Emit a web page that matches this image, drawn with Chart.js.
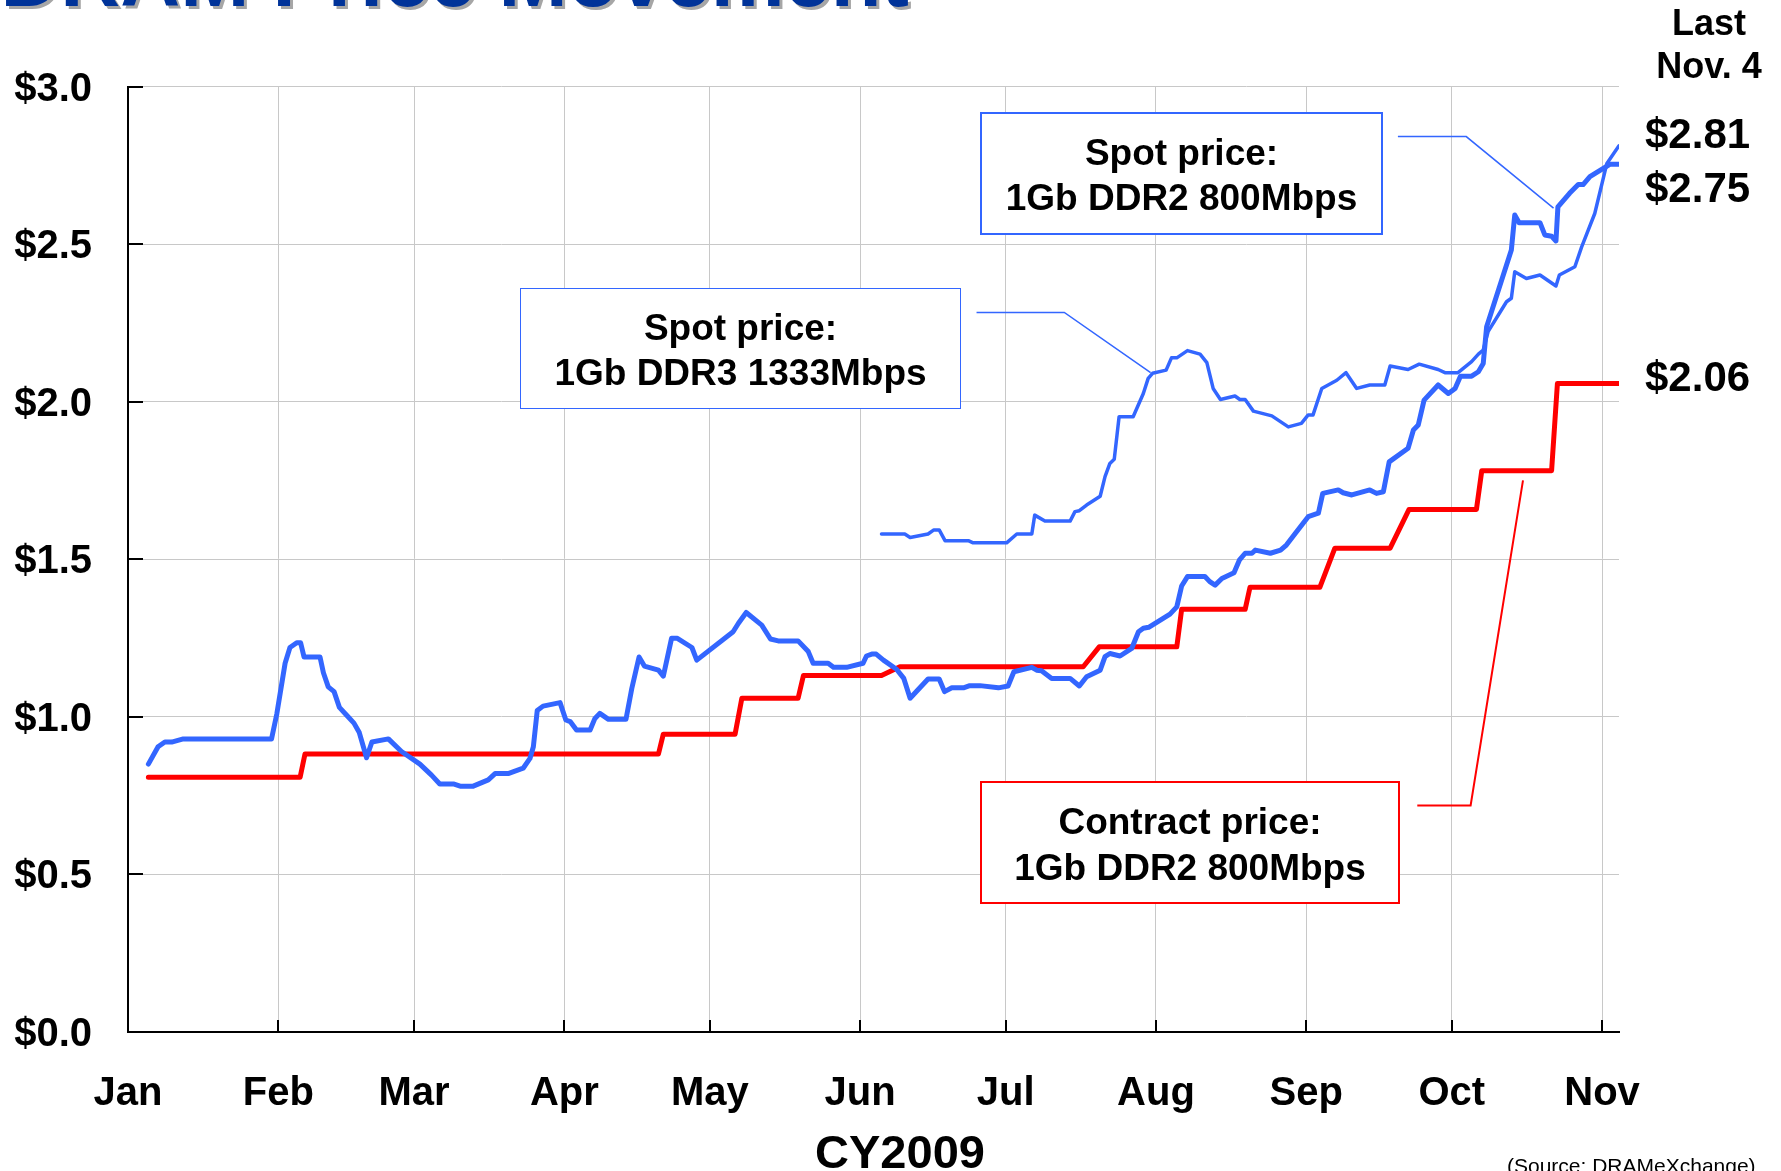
<!DOCTYPE html>
<html>
<head>
<meta charset="utf-8">
<script src="https://cdn.jsdelivr.net/npm/chart.js@4.4.1/dist/chart.umd.min.js"></script>
<style>
html,body{margin:0;padding:0;background:#fff;overflow:hidden;}
#wrap{position:relative;width:1781px;height:1171px;overflow:hidden;font-family:'Liberation Sans',Arial,Helvetica,sans-serif;}
#c{position:absolute;left:0;top:0;}
.t{position:absolute;white-space:nowrap;line-height:1;font-weight:bold;color:#000;}
.box{position:absolute;background:#fff;box-sizing:border-box;}
</style>
</head>
<body>
<div id="wrap"><canvas id="c" width="1781" height="1171"></canvas></div>
<script>
// ---------- data (day of year 2009, 0 = Jan 1; price in US$) ----------
const monthLabels = ['Jan','Feb','Mar','Apr','May','Jun','Jul','Aug','Sep','Oct','Nov'];
const monthStartDays = [0,31,59,90,120,151,181,212,243,273,304];
const lastDay = 307.5;
const yMax = 3.0;
const yStep = 0.5;

const ddr2SpotDays = [4.2,6.2,7.6,9.0,11.4,29.6,30.7,32.4,33.4,34.8,35.6,36.3,39.6,40.3,41.3,42.5,43.6,45.1,46.6,47.7,49.2,50.3,53.7,56.4,60.2,62.6,64.3,67.1,68.5,71.2,74.3,75.7,78.4,81.5,82.9,83.6,84.4,85.6,89.1,90.3,91.2,92.5,95.3,96.3,97.3,99.1,102.7,103.9,105.4,106.5,109.4,110.4,112.1,113.3,116.3,117.3,124.8,125.9,127.5,130.7,132.5,134.1,138.2,140.3,141.3,144.4,145.5,148.2,151.6,152.3,153.4,154.3,155.8,158.5,160.0,161.3,165.0,167.3,168.4,169.9,172.3,173.6,175.7,179.5,181.5,182.7,186.4,187.4,188.4,190.5,194.3,196.2,197.7,200.5,201.5,202.5,204.6,207.0,208.4,209.4,210.5,214.9,216.3,217.3,218.5,222.1,223.1,224.2,225.6,228.1,229.2,230.4,231.8,232.5,235.6,237.7,238.9,241.0,243.4,245.5,246.4,249.6,250.6,252.4,256.1,257.5,258.9,260.1,264.0,265.1,266.1,267.3,270.2,272.3,273.7,274.8,277.1,278.5,279.5,280.2,285.3,286.0,286.9,291.2,292.2,293.6,294.5,294.9,297.3,299.1,300.1,301.5,305.6,307.5];
const ddr2SpotPrices = [0.85,0.905,0.92,0.92,0.93,0.93,1.01,1.17,1.22,1.235,1.235,1.19,1.19,1.14,1.095,1.08,1.03,1.005,0.98,0.95,0.87,0.92,0.93,0.89,0.85,0.815,0.787,0.787,0.78,0.78,0.80,0.82,0.82,0.837,0.868,0.905,1.02,1.034,1.045,0.99,0.985,0.958,0.958,0.995,1.011,0.992,0.992,1.09,1.19,1.161,1.148,1.129,1.249,1.249,1.22,1.18,1.27,1.297,1.331,1.291,1.247,1.241,1.241,1.207,1.17,1.17,1.157,1.157,1.17,1.193,1.199,1.199,1.18,1.151,1.122,1.059,1.12,1.12,1.08,1.092,1.092,1.099,1.099,1.092,1.098,1.143,1.157,1.148,1.146,1.122,1.122,1.098,1.127,1.148,1.191,1.201,1.193,1.217,1.27,1.281,1.284,1.326,1.349,1.415,1.445,1.445,1.429,1.418,1.439,1.457,1.497,1.519,1.519,1.529,1.519,1.529,1.545,1.587,1.635,1.646,1.709,1.72,1.711,1.704,1.72,1.709,1.714,1.809,1.852,1.91,1.926,2.005,2.053,2.026,2.042,2.081,2.081,2.095,2.121,2.238,2.481,2.592,2.568,2.568,2.529,2.525,2.51,2.618,2.661,2.689,2.689,2.714,2.753,2.753];

const ddr3SpotDays = [155.4,160.2,161.3,165.0,166.2,167.3,168.5,173.3,174.3,181.2,183.3,186.4,187.0,189.1,194.3,195.3,196.2,197.7,200.5,201.5,202.5,203.4,204.4,207.3,209.4,210.4,211.3,214.1,215.2,216.3,218.5,221.1,222.5,223.8,225.3,228.3,229.3,230.4,232.1,235.9,239.3,242.0,243.4,244.4,246.2,249.3,251.2,253.4,256.1,259.2,260.3,264.0,266.3,270.2,271.6,274.3,277.1,278.5,279.5,280.5,284.3,285.3,286.0,288.4,291.2,294.5,295.2,298.4,299.8,302.5,305.0,307.5];
const ddr3SpotPrices = [1.58,1.58,1.569,1.58,1.593,1.593,1.559,1.559,1.552,1.552,1.58,1.58,1.64,1.621,1.621,1.651,1.654,1.672,1.70,1.762,1.804,1.817,1.952,1.952,2.026,2.074,2.09,2.10,2.139,2.139,2.162,2.151,2.124,2.042,2.007,2.018,2.007,2.007,1.97,1.955,1.92,1.931,1.958,1.958,2.042,2.068,2.092,2.042,2.053,2.053,2.113,2.102,2.119,2.102,2.092,2.092,2.127,2.151,2.164,2.222,2.317,2.328,2.412,2.391,2.402,2.367,2.402,2.428,2.491,2.597,2.756,2.812];

const contractDays = [4.2,35.5,36.5,109.4,110.4,125.2,126.6,138.2,139.3,155.4,159.2,197.0,200.3,216.3,217.3,230.4,231.4,245.8,248.9,260.3,264.2,278.1,279.2,293.6,294.8,307.5];
const contractPrices = [0.808,0.808,0.882,0.882,0.945,0.945,1.059,1.059,1.131,1.131,1.159,1.159,1.222,1.222,1.341,1.341,1.411,1.411,1.535,1.535,1.658,1.658,1.781,1.781,2.058,2.058];

const lastValueLabels = ['$2.81','$2.75','$2.06'];
const seriesLabels = [['Spot price:','1Gb DDR2 800Mbps'],['Spot price:','1Gb DDR3 1333Mbps'],['Contract price:','1Gb DDR2 800Mbps']];

// ---------- styling / layout ----------
const BLUE = '#3366ff', RED = '#ff0000', GRID = '#c8c8c8';
const FONT = "'Liberation Sans', Arial, Helvetica, sans-serif";

const toXY = (xs, ys) => xs.map((d, i) => ({x: d, y: ys[i]}));

// leader lines (anchored in data units)
const leaders = [
  {color: BLUE, width: 1.5, pts: [[261.9,2.841],[276.0,2.841],[294.0,2.614]]},
  {color: BLUE, width: 1.5, pts: [[175.0,2.283],[193.1,2.283],[210.9,2.092]]},
  {color: RED,  width: 2,   pts: [[265.9,0.719],[276.9,0.719],[287.7,1.750]]}
];

const innerTicks = {
  id: 'innerTicks',
  beforeDatasetsDraw(chart) {
    const {ctx, chartArea: a, scales: {x, y}} = chart;
    ctx.save();
    ctx.strokeStyle = '#000';
    ctx.lineWidth = 2;
    y.ticks.forEach(t => {
      const py = Math.round(y.getPixelForValue(t.value));
      ctx.beginPath(); ctx.moveTo(a.left, py); ctx.lineTo(a.left + 15, py); ctx.stroke();
    });
    x.ticks.forEach(t => {
      const px = Math.round(x.getPixelForValue(t.value));
      ctx.beginPath(); ctx.moveTo(px, a.bottom); ctx.lineTo(px, a.bottom - 12); ctx.stroke();
    });
    ctx.restore();
  }
};

const leaderPlugin = {
  id: 'leaders',
  afterDatasetsDraw(chart) {
    const {ctx, scales: {x, y}} = chart;
    ctx.save();
    leaders.forEach(l => {
      ctx.strokeStyle = l.color;
      ctx.lineWidth = l.width;
      ctx.beginPath();
      l.pts.forEach((p, i) => {
        const px = x.getPixelForValue(p[0]), py = y.getPixelForValue(p[1]);
        if (i === 0) ctx.moveTo(px, py); else ctx.lineTo(px, py);
      });
      ctx.stroke();
    });
    ctx.restore();
  }
};

new Chart(document.getElementById('c'), {
  type: 'line',
  data: {
    datasets: [
      {label: 'Spot price: 1Gb DDR2 800Mbps', data: toXY(ddr2SpotDays, ddr2SpotPrices), borderColor: BLUE, borderWidth: 5},
      {label: 'Spot price: 1Gb DDR3 1333Mbps', data: toXY(ddr3SpotDays, ddr3SpotPrices), borderColor: BLUE, borderWidth: 3.5},
      {label: 'Contract price: 1Gb DDR2 800Mbps', data: toXY(contractDays, contractPrices), borderColor: RED, borderWidth: 5}
    ]
  },
  options: {
    responsive: false,
    devicePixelRatio: 1,
    animation: false,
    events: [],
    layout: {padding: {left: 0, top: 86.5, right: 162, bottom: 0}},
    elements: {
      point: {radius: 0},
      line: {tension: 0, fill: false, borderJoinStyle: 'round', borderCapStyle: 'round'}
    },
    plugins: {legend: {display: false}, tooltip: {enabled: false}, title: {display: false}},
    scales: {
      x: {
        type: 'linear',
        min: 0, max: lastDay,
        afterFit: s => { s.height = 139; },
        afterBuildTicks: s => { s.ticks = monthStartDays.map(v => ({value: v})); },
        grid: {color: GRID, lineWidth: 1, drawTicks: false},
        border: {display: true, color: '#000', width: 2},
        ticks: {
          autoSkip: false, maxRotation: 0, padding: 38,
          color: '#000',
          font: {family: FONT, size: 40, weight: 'bold'},
          callback: v => monthLabels[monthStartDays.indexOf(v)]
        }
      },
      y: {
        min: 0, max: yMax,
        afterFit: s => { s.width = 128; },
        grid: {color: GRID, lineWidth: 1, drawTicks: false},
        border: {display: true, color: '#000', width: 2},
        ticks: {
          stepSize: yStep, padding: 36, labelOffset: 3,
          color: '#000',
          font: {family: FONT, size: 40, weight: 'bold'},
          callback: v => '$' + Number(v).toFixed(1)
        }
      }
    }
  },
  plugins: [innerTicks, leaderPlugin]
});

// ---------- text annotations (real text) ----------
const wrap = document.getElementById('wrap');
function addText(txt, o) {
  const d = document.createElement('div');
  d.className = 't';
  d.textContent = txt;
  d.style.fontSize = o.size + 'px';
  if (o.weight) d.style.fontWeight = o.weight;
  if (o.color) d.style.color = o.color;
  if (o.shadow) d.style.textShadow = o.shadow;
  const top = o.baseline !== undefined ? o.baseline - 0.8465 * o.size : o.capY - 0.4885 * o.size;
  d.style.top = top + 'px';
  if (o.cx !== undefined) { d.style.left = (o.cx - 600) + 'px'; d.style.width = '1200px'; d.style.textAlign = 'center'; }
  else if (o.right !== undefined) { d.style.right = (1781 - o.right) + 'px'; d.style.textAlign = 'right'; }
  else d.style.left = o.left + 'px';
  wrap.appendChild(d);
}
function addBox(o) {
  const b = document.createElement('div');
  b.className = 'box';
  Object.assign(b.style, {left: o.left + 'px', top: o.top + 'px', width: o.w + 'px', height: o.h + 'px', border: o.bw + 'px solid ' + o.color});
  wrap.appendChild(b);
  o.lines.forEach((ln, i) => addText(ln, {cx: o.left + o.w / 2, capY: o.capY[i], size: 37}));
}

addText('DRAM Price Movement', {right: 909, baseline: 6, size: 83, color: '#003399', shadow: '3px 3px 0 #a6a6a6'});
addText('Last', {cx: 1709, capY: 22.5, size: 36});
addText('Nov. 4', {cx: 1709, capY: 65.8, size: 36});
addText(lastValueLabels[0], {left: 1645, capY: 133.5, size: 42});
addText(lastValueLabels[1], {left: 1645, capY: 188, size: 42});
addText(lastValueLabels[2], {left: 1645, capY: 377, size: 42});
addText('CY2009', {cx: 900, capY: 1151, size: 47});
addText('(Source: DRAMeXchange)', {left: 1507, capY: 1165, size: 21, weight: 'normal'});

addBox({left: 980, top: 112, w: 403, h: 123, bw: 2, color: BLUE, lines: seriesLabels[0], capY: [152.2, 197.2]});
addBox({left: 520, top: 288, w: 441, h: 121, bw: 1.5, color: BLUE, lines: seriesLabels[1], capY: [327, 372.5]});
addBox({left: 980, top: 781, w: 420, h: 123, bw: 2, color: RED, lines: seriesLabels[2], capY: [821.2, 866.6]});
</script>
</body>
</html>
